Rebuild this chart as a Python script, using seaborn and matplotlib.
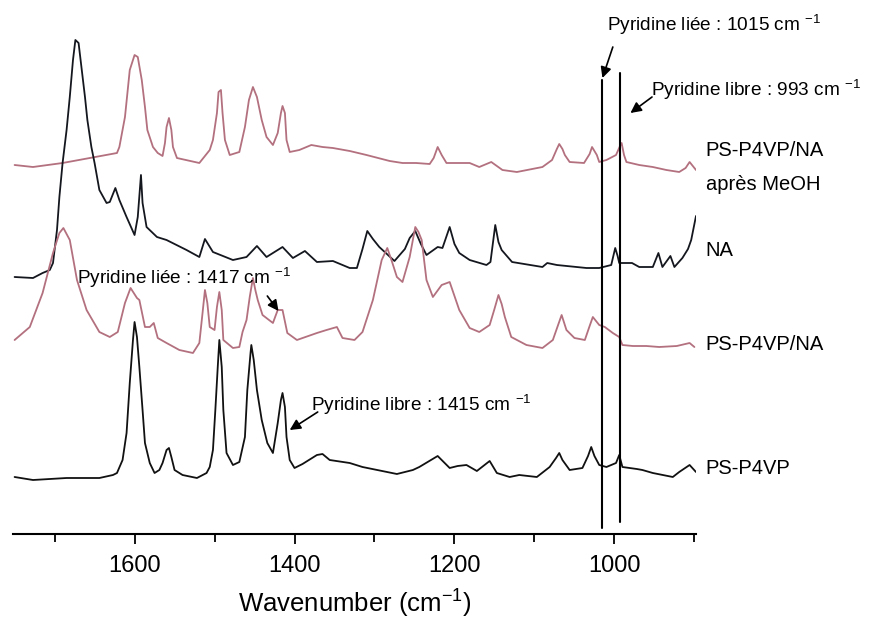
import numpy as np
import pandas as pd
import matplotlib
matplotlib.use('Agg')
import matplotlib.pyplot as plt
import seaborn as sns

# spectra: wavenumber (cm-1) and absorbance (a.u., stacked)
wn_meoh = [1750, 1727, 1690, 1656, 1622, 1619, 1612, 1606, 1600, 1596, 1591, 1587, 1584, 1577, 1571,
           1565, 1562, 1560, 1557, 1554, 1552, 1547, 1519, 1506, 1502, 1497, 1495, 1492, 1490, 1487,
           1481, 1469, 1462, 1457, 1452, 1447, 1441, 1435, 1427, 1421, 1417, 1415, 1412, 1410, 1406,
           1394, 1379, 1365, 1352, 1331, 1310, 1281, 1265, 1248, 1231, 1226, 1221, 1216, 1210, 1194,
           1181, 1169, 1154, 1140, 1122, 1090, 1078, 1072, 1069, 1065, 1062, 1056, 1038, 1031, 1028,
           1025, 1022, 1019, 1010, 998, 993, 991, 988, 985, 969, 952, 935, 919, 911, 906, 902, 898]
ab_meoh = [3.69, 3.67, 3.71, 3.76, 3.81, 3.87, 4.17, 4.64, 4.79, 4.77, 4.54, 4.27, 4.04, 3.87, 3.81,
           3.78, 3.91, 4.07, 4.16, 4.04, 3.87, 3.76, 3.71, 3.84, 3.94, 4.21, 4.42, 4.44, 4.21, 3.94,
           3.79, 3.82, 4.07, 4.34, 4.47, 4.37, 4.14, 3.97, 3.89, 4.01, 4.21, 4.28, 4.21, 3.94, 3.82,
           3.84, 3.89, 3.87, 3.86, 3.83, 3.79, 3.73, 3.71, 3.71, 3.70, 3.76, 3.87, 3.79, 3.71, 3.71,
           3.71, 3.67, 3.72, 3.64, 3.62, 3.67, 3.74, 3.85, 3.90, 3.85, 3.79, 3.72, 3.71, 3.80, 3.87,
           3.83, 3.79, 3.72, 3.74, 3.79, 3.88, 3.91, 3.79, 3.72, 3.69, 3.67, 3.64, 3.62, 3.66, 3.72,
           3.68, 3.64]

wn_na = [1750, 1727, 1715, 1706, 1702, 1697, 1694, 1690, 1685, 1681, 1677, 1674, 1670, 1666, 1662,
         1659, 1654, 1650, 1644, 1635, 1631, 1624, 1619, 1610, 1600, 1596, 1592, 1590, 1585, 1572,
         1560, 1535, 1519, 1512, 1502, 1477, 1460, 1447, 1435, 1415, 1402, 1387, 1372, 1352, 1331,
         1322, 1315, 1309, 1302, 1294, 1275, 1262, 1256, 1249, 1242, 1235, 1221, 1215, 1206, 1200,
         1194, 1181, 1160, 1155, 1149, 1145, 1141, 1128, 1090, 1084, 1072, 1035, 1019, 1004, 999,
         996, 994, 978, 969, 952, 945, 940, 930, 925, 915, 908, 904, 898]
ab_na = [2.57, 2.56, 2.61, 2.64, 2.71, 3.04, 3.37, 3.71, 4.04, 4.37, 4.74, 4.94, 4.91, 4.64, 4.37,
         4.14, 3.87, 3.71, 3.44, 3.31, 3.32, 3.46, 3.34, 3.17, 2.99, 3.17, 3.59, 3.31, 3.07, 2.97,
         2.94, 2.84, 2.77, 2.95, 2.82, 2.74, 2.77, 2.88, 2.77, 2.87, 2.76, 2.83, 2.72, 2.73, 2.66,
         2.66, 2.85, 3.03, 2.95, 2.87, 2.73, 2.85, 2.96, 3.03, 2.90, 2.79, 2.87, 2.86, 3.07, 2.90,
         2.81, 2.74, 2.69, 2.72, 3.09, 2.92, 2.84, 2.72, 2.67, 2.71, 2.69, 2.66, 2.66, 2.69, 2.86,
         2.78, 2.71, 2.71, 2.67, 2.67, 2.81, 2.67, 2.78, 2.67, 2.76, 2.85, 2.94, 3.18]

wn_mix = [1750, 1731, 1715, 1702, 1694, 1689, 1681, 1672, 1660, 1644, 1631, 1621, 1612, 1605, 1597,
          1594, 1587, 1581, 1576, 1571, 1560, 1544, 1527, 1519, 1515, 1512, 1509, 1506, 1500, 1497,
          1494, 1491, 1489, 1477, 1469, 1465, 1460, 1456, 1452, 1449, 1446, 1440, 1427, 1421, 1415,
          1409, 1397, 1372, 1360, 1347, 1340, 1325, 1315, 1302, 1291, 1284, 1278, 1272, 1265, 1256,
          1249, 1245, 1241, 1235, 1227, 1216, 1206, 1194, 1181, 1169, 1156, 1150, 1145, 1141, 1137,
          1129, 1110, 1090, 1077, 1070, 1066, 1060, 1050, 1037, 1031, 1027, 1019, 1012, 1002, 994,
          990, 977, 960, 944, 922, 906, 900]
ab_mix = [1.94, 2.07, 2.41, 2.81, 3.01, 3.06, 2.94, 2.54, 2.24, 2.02, 1.97, 2.02, 2.31, 2.46, 2.36,
          2.34, 2.07, 2.07, 2.11, 1.96, 1.91, 1.84, 1.81, 1.91, 2.21, 2.44, 2.31, 2.07, 2.04, 2.27,
          2.42, 2.24, 1.94, 1.86, 1.87, 2.02, 2.14, 2.37, 2.56, 2.44, 2.34, 2.19, 2.11, 2.24, 2.24,
          2.01, 1.94, 2.01, 2.04, 2.07, 1.96, 1.94, 2.02, 2.34, 2.74, 2.86, 2.72, 2.57, 2.52, 2.77,
          3.07, 3.02, 2.94, 2.54, 2.37, 2.49, 2.52, 2.24, 2.06, 2.02, 2.09, 2.25, 2.39, 2.30, 2.17,
          1.97, 1.89, 1.86, 1.94, 2.10, 2.19, 2.04, 1.96, 1.94, 2.08, 2.17, 2.09, 2.07, 2.01, 1.97,
          1.89, 1.88, 1.88, 1.87, 1.88, 1.91, 1.87]

wn_p4vp = [1750, 1727, 1685, 1644, 1627, 1622, 1615, 1610, 1606, 1602, 1600, 1597, 1594, 1590, 1587,
           1581, 1575, 1569, 1565, 1560, 1557, 1554, 1550, 1540, 1522, 1510, 1506, 1502, 1499, 1496,
           1494, 1491, 1489, 1485, 1477, 1469, 1462, 1459, 1455, 1454, 1451, 1447, 1441, 1434, 1427,
           1421, 1417, 1415, 1412, 1410, 1406, 1400, 1390, 1372, 1365, 1356, 1331, 1315, 1272, 1252,
           1244, 1221, 1206, 1196, 1185, 1172, 1156, 1147, 1131, 1119, 1097, 1081, 1073, 1069, 1065,
           1056, 1040, 1033, 1029, 1025, 1019, 1010, 998, 994, 990, 972, 965, 952, 927, 919, 906, 898]
ab_p4vp = [0.57, 0.54, 0.56, 0.56, 0.59, 0.61, 0.74, 1.01, 1.51, 1.94, 2.12, 1.97, 1.67, 1.24, 0.91,
           0.71, 0.61, 0.64, 0.71, 0.84, 0.86, 0.77, 0.64, 0.59, 0.56, 0.61, 0.67, 0.84, 1.24, 1.67,
           1.94, 1.67, 1.24, 0.81, 0.69, 0.72, 0.97, 1.44, 1.81, 1.89, 1.74, 1.44, 1.14, 0.91, 0.81,
           1.11, 1.34, 1.41, 1.27, 0.97, 0.74, 0.66, 0.70, 0.79, 0.80, 0.74, 0.71, 0.67, 0.60, 0.64,
           0.67, 0.78, 0.66, 0.68, 0.69, 0.63, 0.73, 0.61, 0.57, 0.59, 0.57, 0.67, 0.76, 0.81, 0.74,
           0.64, 0.66, 0.78, 0.87, 0.78, 0.69, 0.67, 0.71, 0.79, 0.67, 0.65, 0.64, 0.61, 0.57, 0.62,
           0.69, 0.62]

labels = ['PS-P4VP/NA', 'après MeOH', 'NA', 'PS-P4VP/NA', 'PS-P4VP']
label_y = [3.84, 3.49, 2.84, 1.89, 0.66]
colors = {'meoh': '#b3707f', 'na': '#15171f', 'mix': '#b3707f', 'p4vp': '#111111'}
band_lines = [1015, 993]

df = pd.concat([
    pd.DataFrame({'wn': wn_meoh, 'ab': ab_meoh, 'spectre': 'meoh'}),
    pd.DataFrame({'wn': wn_na, 'ab': ab_na, 'spectre': 'na'}),
    pd.DataFrame({'wn': wn_mix, 'ab': ab_mix, 'spectre': 'mix'}),
    pd.DataFrame({'wn': wn_p4vp, 'ab': ab_p4vp, 'spectre': 'p4vp'}),
])

sns.set_style('white')
plt.rcParams['font.family'] = ['Liberation Sans', 'DejaVu Sans']
plt.rcParams['text.color'] = 'black'

fig = plt.figure(figsize=(8.69, 6.23), dpi=100)
ax = fig.add_axes([13 / 869, 89 / 623, 683 / 869, 534 / 623])

sns.lineplot(data=df, x='wn', y='ab', hue='spectre', palette=colors, sort=False,
             estimator=None, legend=False, lw=1.3, ax=ax)

# vertical marker lines
ax.plot([band_lines[0]] * 2, [0.06, 4.54], color='black', lw=1.5)
ax.plot([band_lines[1]] * 2, [0.12, 4.61], color='black', lw=1.5)

ax.set_xlim(1752, 898)
ax.set_ylim(0, 5.34)
ax.set_xticks([1600, 1400, 1200, 1000])
ax.set_xticks([1700, 1500, 1300, 1100, 900], minor=True)
ax.set_yticks([])
for s in ['left', 'top', 'right']:
    ax.spines[s].set_visible(False)
ax.spines['bottom'].set_linewidth(1.5)
ax.spines['bottom'].set_color('black')
ax.tick_params(axis='x', which='major', direction='out', length=7, width=1.3, labelsize=17, pad=8,
               bottom=True, colors='black')
ax.tick_params(axis='x', which='minor', direction='out', length=6, width=1.3, bottom=True,
               colors='black')
ax.set_xlabel('Wavenumber (cm$^{\\mathregular{-1}}$)', fontsize=18.5, labelpad=7, color='black')
ax.set_ylabel('')

# sample labels
for lab, y in zip(labels, label_y):
    ax.text(886, y, lab, fontsize=14.5, va='center', ha='left', clip_on=False)

arrow = dict(arrowstyle='-|>', color='black', lw=1.2, mutation_scale=16, shrinkA=0, shrinkB=0)
ax.annotate('', xy=(1015, 4.56), xytext=(1002, 4.87), arrowprops=arrow)
ax.text(1009, 5.09, 'Pyridine liée : 1015 cm $^{\\mathregular{-1}}$', fontsize=13.7, va='center', ha='left')
ax.annotate('', xy=(980, 4.21), xytext=(953, 4.37), arrowprops=arrow, annotation_clip=False)
ax.text(954, 4.44, 'Pyridine libre : 993 cm $^{\\mathregular{-1}}$', fontsize=13.7, va='center', ha='left',
        clip_on=False)
ax.annotate('', xy=(1420, 2.23), xytext=(1434, 2.38), arrowprops=arrow)
ax.text(1672, 2.56, 'Pyridine liée : 1417 cm $^{\\mathregular{-1}}$', fontsize=13.7, va='center', ha='left')
ax.annotate('', xy=(1406, 1.04), xytext=(1371, 1.22), arrowprops=arrow)
ax.text(1379, 1.29, 'Pyridine libre : 1415 cm $^{\\mathregular{-1}}$', fontsize=13.7, va='center', ha='left')

fig.savefig('out.png', dpi=100)
